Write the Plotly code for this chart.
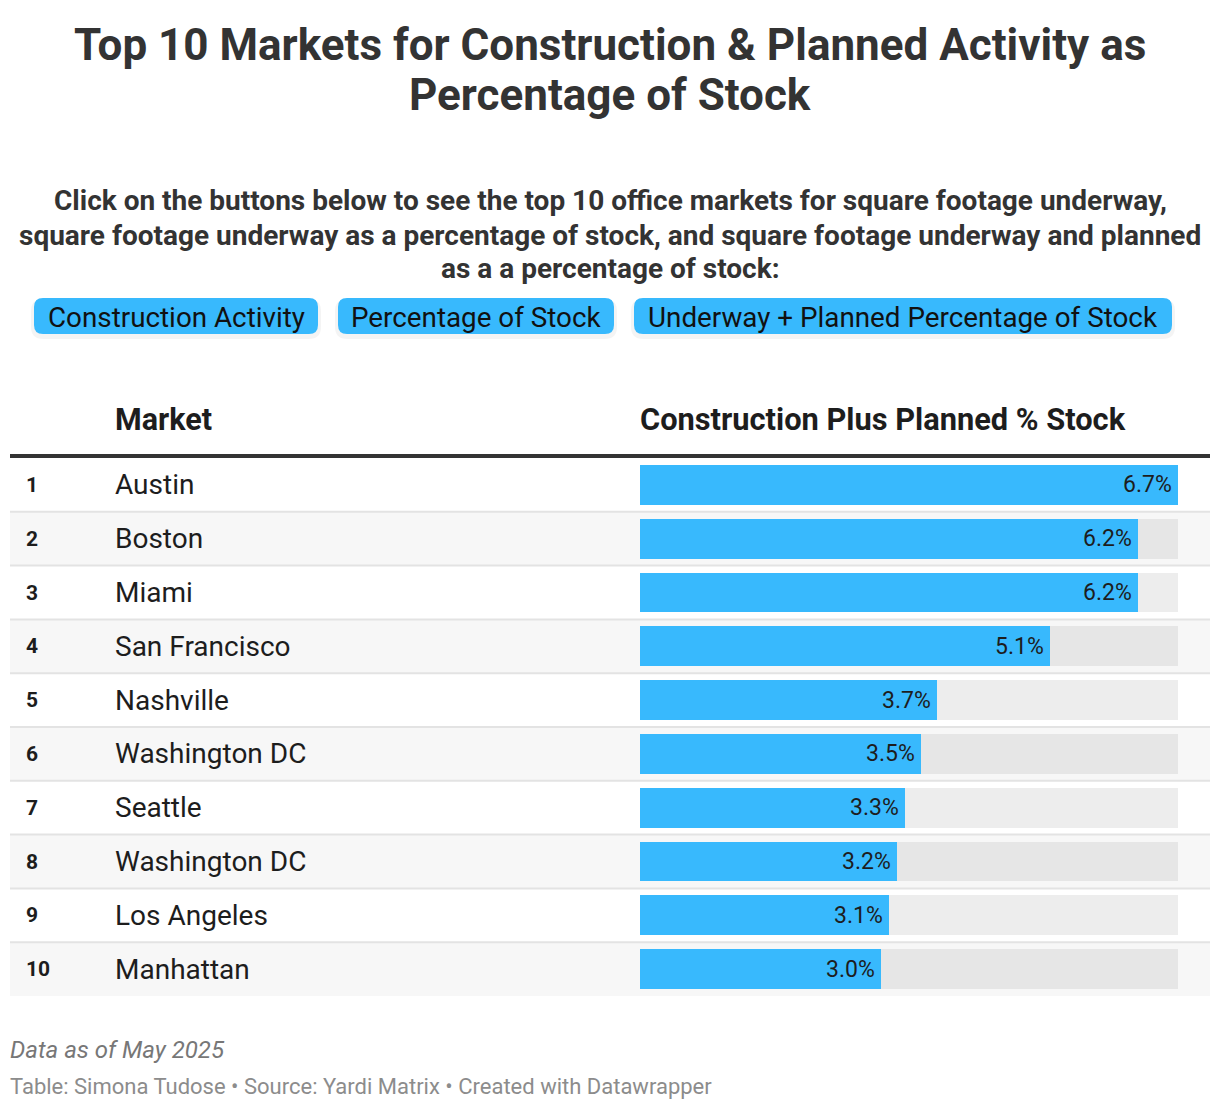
import plotly.graph_objects as go

ranks = [1, 2, 3, 4, 5, 6, 7, 8, 9, 10]
markets = ["Austin", "Boston", "Miami", "San Francisco", "Nashville",
           "Washington DC", "Seattle", "Washington DC", "Los Angeles", "Manhattan"]
values = [6.7, 6.2, 6.2, 5.1, 3.7, 3.5, 3.3, 3.2, 3.1, 3.0]
max_value = 6.7
buttons = ["Construction Activity", "Percentage of Stock",
           "Underway + Planned Percentage of Stock"]
title_lines = ["Top 10 Markets for Construction &amp; Planned Activity as",
               "Percentage of Stock"]
subtitle_lines = [
    "Click on the buttons below to see the top 10 office markets for square footage underway,",
    "square footage underway as a percentage of stock, and square footage underway and planned",
    "as a a percentage of stock:",
]

# page has an 8px body margin; figure sits at (8, 8)
OFF = 8
W, H = 1220 - OFF, 1110 - OFF
FONT = "Roboto"
BLUE = "#38b9fd"
DARK = "#1d1d1d"


def px(x):
    return (x - OFF) / W


def py(y):
    return 1 - (y - OFF) / H


row_top, row_bot = 458, 996

fig = go.Figure()

track_colors = ["#ededed" if r % 2 == 1 else "#e6e6e6" for r in ranks]
fig.add_trace(go.Bar(
    x=[max_value] * len(ranks), y=ranks, orientation="h",
    marker=dict(color=track_colors, line=dict(width=0)),
    width=0.74, hoverinfo="skip", showlegend=False,
))
fig.add_trace(go.Bar(
    x=values, y=ranks, orientation="h",
    marker=dict(color=BLUE, line=dict(width=0)),
    width=0.74, showlegend=False,
    hovertemplate="%{customdata}: %{x:.1f}%<extra></extra>",
    customdata=markets,
))

shapes = []
annotations = []

for i, r in enumerate(ranks):
    if r % 2 == 0:
        shapes.append(dict(type="rect", xref="paper", yref="y",
                           x0=px(10), x1=px(1210), y0=r - 0.5, y1=r + 0.5,
                           fillcolor="#f7f7f7", line=dict(width=0), layer="below"))
    if r > 1:
        shapes.append(dict(type="line", xref="paper", yref="y",
                           x0=px(10), x1=px(1210), y0=r - 0.5, y1=r - 0.5,
                           line=dict(color="#e3e3e3", width=2), layer="below"))
    annotations.append(dict(xref="paper", yref="y", x=px(24), y=r, text=f"<b>{r}</b>",
                            xanchor="left", yanchor="middle", showarrow=False,
                            font=dict(family=FONT, size=21, color=DARK)))
    annotations.append(dict(xref="paper", yref="y", x=px(113), y=r,
                            text=markets[i], xanchor="left", yanchor="middle",
                            showarrow=False,
                            font=dict(family=FONT, size=28, color=DARK)))
    annotations.append(dict(xref="x", yref="y", x=values[i], y=r, xshift=-4,
                            text=f"{values[i]:.1f}%", xanchor="right", yanchor="middle",
                            showarrow=False,
                            font=dict(family=FONT, size=23, color=DARK)))

# header line
shapes.append(dict(type="line", xref="paper", yref="paper",
                   x0=px(10), x1=px(1210), y0=py(456), y1=py(456),
                   line=dict(color="#333333", width=4)))

# header labels
annotations.append(dict(xref="paper", yref="paper", x=px(113), y=py(419),
                        text="<b>Market</b>", xanchor="left", yanchor="middle",
                        showarrow=False, font=dict(family=FONT, size=30.5, color=DARK)))
annotations.append(dict(xref="paper", yref="paper", x=px(638), y=py(419),
                        text="<b>Construction Plus Planned % Stock</b>", xanchor="left",
                        yanchor="middle", showarrow=False,
                        font=dict(family=FONT, size=30.8, color=DARK)))

# title
for t, yc in zip(title_lines, [45, 95]):
    annotations.append(dict(xref="paper", yref="paper", x=px(610), y=py(yc),
                            text=f"<b>{t}</b>", xanchor="center", yanchor="middle",
                            showarrow=False,
                            font=dict(family=FONT, size=44, color="#333333")))

# subtitle
for t, yc in zip(subtitle_lines, [201, 235, 269]):
    annotations.append(dict(xref="paper", yref="paper", x=px(610), y=py(yc),
                            text=f"<b>{t}</b>", xanchor="center", yanchor="middle",
                            showarrow=False,
                            font=dict(family=FONT, size=28, color="#333333")))


def rr(xa, xb, ya, yb, r):
    X0, X1 = px(xa), px(xb)
    Y0, Y1 = py(yb), py(ya)
    rx, ry = r / W, r / H
    return (f"M {X0+rx},{Y0} L {X1-rx},{Y0} Q {X1},{Y0} {X1},{Y0+ry} "
            f"L {X1},{Y1-ry} Q {X1},{Y1} {X1-rx},{Y1} L {X0+rx},{Y1} "
            f"Q {X0},{Y1} {X0},{Y1-ry} L {X0},{Y0+ry} Q {X0},{Y0} {X0+rx},{Y0} Z")


btn_x = [(34, 318), (338, 614), (634, 1172)]
by0, by1 = 298, 334
for (x0, x1), label in zip(btn_x, buttons):
    shapes.append(dict(type="path", xref="paper", yref="paper",
                       path=rr(x0 - 3, x1 + 3, by0 + 1, by1 + 5, 12),
                       fillcolor="rgba(0,0,0,0.045)", line=dict(width=0)))
    shapes.append(dict(type="path", xref="paper", yref="paper",
                       path=rr(x0, x1, by0, by1, 9),
                       fillcolor=BLUE, line=dict(width=0)))
    annotations.append(dict(xref="paper", yref="paper", x=px((x0 + x1) / 2), y=py(317),
                            text=label, xanchor="center", yanchor="middle", showarrow=False,
                            font=dict(family=FONT, size=27.8, color="#111111")))

# footer
annotations.append(dict(xref="paper", yref="paper", x=px(8), y=py(1050),
                        text="<i>Data as of May 2025</i>", xanchor="left", yanchor="middle",
                        showarrow=False, font=dict(family=FONT, size=24, color="#777777")))
annotations.append(dict(xref="paper", yref="paper", x=px(8), y=py(1086),
                        text="Table: Simona Tudose • Source: Yardi Matrix • Created with Datawrapper",
                        xanchor="left", yanchor="middle", showarrow=False,
                        font=dict(family=FONT, size=22, color="#8c8c8c")))

fig.update_layout(
    width=W, height=H,
    margin=dict(l=0, r=0, t=0, b=0),
    paper_bgcolor="white", plot_bgcolor="rgba(0,0,0,0)",
    barmode="overlay", bargap=0,
    showlegend=False,
    font=dict(family=FONT),
    xaxis=dict(domain=[px(640), px(1178)], range=[0, max_value],
               showgrid=False, zeroline=False, showticklabels=False, fixedrange=True),
    yaxis=dict(domain=[py(row_bot), py(row_top)], range=[10.5, 0.5],
               showgrid=False, zeroline=False, showticklabels=False, fixedrange=True),
    shapes=shapes, annotations=annotations,
)

fig.write_html("out.html")
